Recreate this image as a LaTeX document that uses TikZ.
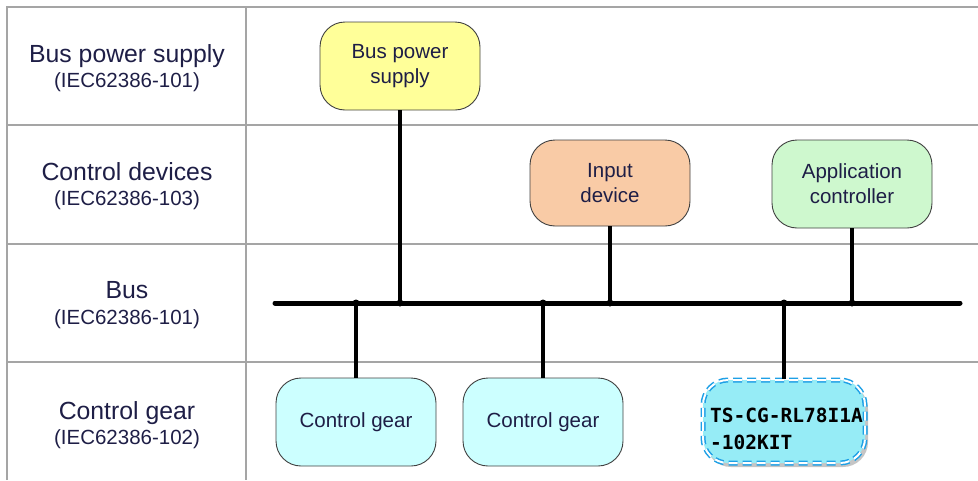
\documentclass[tikz,border=0pt]{standalone}
\usepackage{fontspec}
\setmainfont{Liberation Sans}
\newfontfamily\monob{DejaVu Sans Mono}
\usetikzlibrary{shadows}
\definecolor{gridc}{RGB}{165,165,165}
\definecolor{txtc}{RGB}{30,30,70}
\definecolor{yel}{RGB}{255,255,153}
\definecolor{peach}{RGB}{249,203,166}
\definecolor{mint}{RGB}{206,248,206}
\definecolor{cyanl}{RGB}{204,255,255}
\definecolor{cyanm}{RGB}{150,236,246}
\definecolor{blued}{RGB}{30,160,230}
\tikzset{
  grid/.style={draw=gridc, line width=1.6pt},
  rowlabel/.style={align=center, text=txtc, font=\fontsize{24.8}{27}\selectfont},
  box/.style={draw=black!75, line width=0.9pt, rounded corners=25pt, minimum width=160pt, minimum height=88pt, align=center, text=txtc, font=\fontsize{20.5}{25}\selectfont, inner sep=0pt},
  bus/.style={line width=5pt, line cap=round},
  wire/.style={line width=3.8pt},
  jdot/.style={circle, fill=black, inner sep=0pt, minimum size=7pt}
}
\newcommand{\subl}[1]{{\fontsize{20.5}{24}\selectfont #1}}
\begin{document}
\begin{tikzpicture}[x=1pt,y=-1pt]
\useasboundingbox (0,0) rectangle (978,480);
% table
\draw[grid] (7,480) -- (7,7) -- (978,7);
\draw[grid] (246,7) -- (246,480);
\draw[grid] (7,125) -- (978,125);
\draw[grid] (7,244) -- (978,244);
\draw[grid] (7,362) -- (978,362);
% row labels
\node[rowlabel] (l1) at (127,68) {Bus power supply\\[-2pt]\subl{(IEC62386-101)}};
\node[rowlabel] (l2) at (127,186) {Control devices\\[-2pt]\subl{(IEC62386-103)}};
\node[rowlabel] (l3) at (127,305) {Bus\\[-1pt]\subl{(IEC62386-101)}};
\node[rowlabel] (l4) at (127,425) {Control gear\\[-2pt]\subl{(IEC62386-102)}};
% boxes
\node[box, fill=yel] (bps) at (400,66) {Bus power\\supply};
\node[box, fill=peach, minimum height=86pt] (inp) at (610,183) {Input\\device};
\node[box, fill=mint] (app) at (852,184) {Application\\controller};
\node[box, fill=cyanl] (cg1) at (356,422) {Control gear};
\node[box, fill=cyanl] (cg2) at (543,422) {Control gear};
\node[box, fill=cyanm, draw=blued, dash pattern=on 9pt off 5pt, double=white, double distance=2pt, line width=1.5pt, minimum width=162pt, minimum height=83pt,
      drop shadow={shadow xshift=3pt, shadow yshift=-4pt, fill=black!45, opacity=0.5}] (ts) at (784,421.5) {};
\node[anchor=west, align=left, text=black, font=\monob\bfseries\fontsize{19.5}{27}\selectfont, inner sep=0pt] (tst) at (710,429) {TS-CG-RL78I1A\\-102KIT};
% bus
\coordinate (busL) at (275,303);
\coordinate (busR) at (960,303);
\draw[bus] (busL) -- (busR);
\coordinate (j1) at (bps.south |- busL);
\coordinate (j2) at (inp.south |- busL);
\coordinate (j3) at (app.south |- busL);
\coordinate (j4) at (cg1.north |- busL);
\coordinate (j5) at (cg2.north |- busL);
\coordinate (j6) at (ts.north |- busL);
\draw[wire] (bps.south) -- (j1);
\draw[wire] (inp.south) -- (j2);
\draw[wire] (app.south) -- (j3);
\draw[wire] (j4) -- (cg1.north);
\draw[wire] (j5) -- (cg2.north);
\draw[wire] (j6) -- (ts.north);
\foreach \j in {j1,j2,j3,j4,j5,j6} \node[jdot] at (\j) {};
\end{tikzpicture}
\end{document}
